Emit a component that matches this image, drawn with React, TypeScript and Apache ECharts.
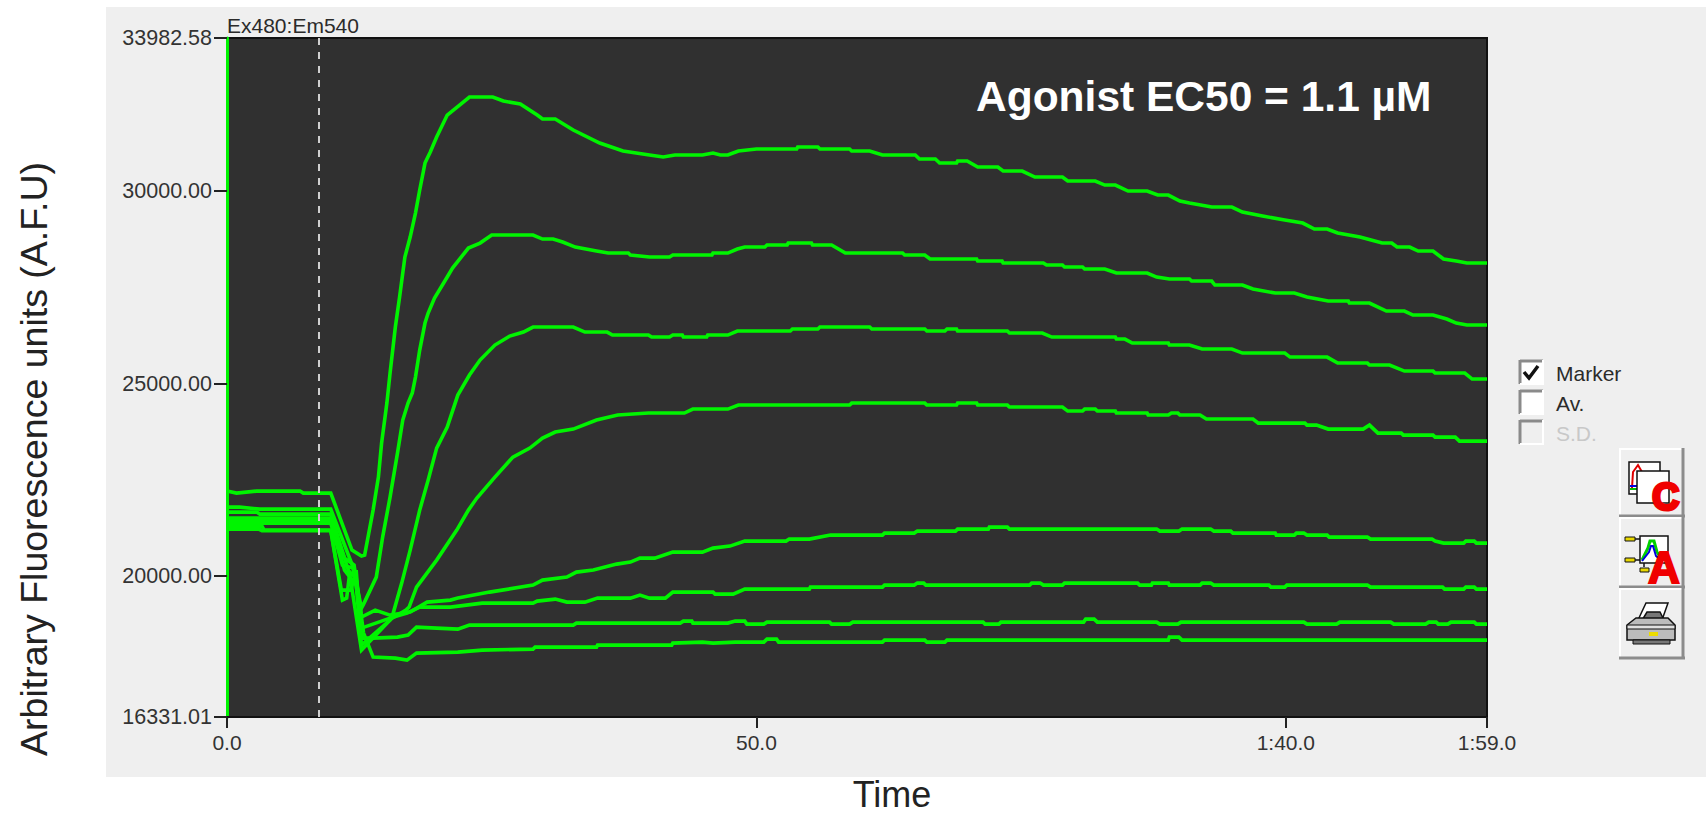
import React, { useEffect, useRef } from "react";
import * as echarts from "echarts";

const yTicks = [16331.01, 20000, 25000, 30000, 33982.58];
const xTicks = [0, 50, 100, 119];
const xTickLabels = ["0.0", "50.0", "1:40.0", "1:59.0"];
const markerTime = 8.7;

const lineA = [[0,22204],[0.9,22152],[2.8,22204],[6.9,22204],[7.2,22152],[9.8,22152],[11.8,20670],[12.7,20514],[13.0,20540],[13.8,21710],[14.3,22568],[14.6,23452],[15.1,24492],[15.4,25272],[15.9,26468],[16.3,27248],[16.8,28288],[17.3,28808],[17.8,29432],[18.2,30030],[18.7,30732],[19.2,31018],[19.8,31408],[20.8,31980],[21.5,32136],[22.9,32448],[25.1,32448],[26.1,32344],[27.7,32266],[29.3,31980],[29.8,31876],[31.0,31876],[32.7,31590],[35.2,31252],[37.4,31044],[39.9,30940],[41.2,30888],[42.3,30940],[44.9,30940],[45.9,30992],[46.6,30940],[47.3,30940],[48.3,31044],[50.0,31096],[53.8,31096],[53.9,31148],[55.8,31148],[56.0,31096],[58.8,31096],[59.0,31044],[60.7,31044],[61.9,30940],[65.0,30940],[65.4,30836],[66.9,30836],[67.3,30732],[68.9,30732],[69.0,30784],[69.9,30784],[70.9,30628],[72.8,30628],[73.3,30524],[75.1,30524],[76.3,30368],[78.9,30368],[79.4,30264],[82.0,30264],[82.9,30160],[83.9,30160],[85.1,30004],[86.9,30004],[87.9,29900],[88.9,29900],[90.0,29744],[90.9,29692],[93.0,29588],[94.9,29588],[95.9,29458],[97.8,29354],[99.9,29250],[101.6,29172],[102.7,29016],[103.9,29016],[104.9,28912],[107.0,28808],[109.1,28652],[110.0,28652],[110.5,28548],[111.7,28548],[112.5,28444],[113.9,28444],[114.9,28236],[116.1,28184],[117.1,28132],[119,28132]];

const lineB = [[0,21788],[1.2,21788],[3.1,21736],[9.8,21736],[11.9,20228],[12.7,19162],[12.9,19266],[14.1,19968],[14.7,21008],[15.4,22048],[16.1,23192],[16.6,24050],[17.1,24492],[17.5,24752],[17.8,25168],[18.2,25870],[18.7,26572],[19.0,26832],[19.6,27222],[20.8,27768],[21.3,28002],[22.8,28522],[23.9,28652],[25.0,28860],[28.9,28860],[29.8,28756],[30.8,28756],[31.7,28678],[32.9,28548],[34.9,28444],[36.0,28392],[37.9,28392],[38.1,28340],[39.9,28288],[41.8,28288],[42.1,28340],[45.8,28340],[45.9,28392],[47.3,28392],[48.2,28496],[48.9,28548],[50.8,28548],[51.0,28600],[52.9,28600],[53.0,28652],[55.2,28652],[55.3,28600],[57.1,28600],[58.4,28392],[63.8,28392],[64.0,28340],[65.9,28340],[66.4,28236],[70.8,28236],[70.9,28184],[73.2,28184],[73.3,28132],[77.1,28132],[77.4,28080],[78.9,28080],[79.1,28028],[80.8,28028],[81.0,27976],[82.9,27976],[84.0,27872],[86.9,27872],[87.8,27768],[89.0,27716],[90.9,27716],[91.1,27664],[93.0,27664],[93.3,27560],[95.9,27560],[96.9,27456],[99.0,27352],[100.8,27352],[102.0,27248],[104.0,27144],[105.9,27144],[106.0,27092],[107.9,27092],[109.5,26884],[111.2,26884],[112.0,26780],[113.9,26780],[115.2,26676],[116.1,26572],[117.1,26520],[119,26520]];

const lineC = [[0,21658],[2.8,21658],[3.1,21606],[9.8,21606],[11.6,20020],[12.7,18070],[15.4,18850],[15.7,19032],[16.5,19812],[17.3,20670],[18.2,21710],[19.0,22490],[19.8,23322],[20.8,23868],[21.8,24700],[22.9,25220],[23.9,25610],[25.3,26000],[26.7,26234],[28.0,26338],[28.9,26468],[32.7,26468],[33.8,26338],[35.9,26338],[36.4,26260],[39.8,26260],[40.1,26208],[41.8,26208],[42.1,26260],[43.0,26260],[43.1,26208],[45.3,26208],[45.4,26260],[47.3,26260],[48.2,26364],[53.2,26364],[53.4,26416],[55.8,26416],[56.0,26468],[60.7,26468],[60.9,26416],[65.9,26416],[66.1,26364],[67.8,26364],[68.0,26416],[68.9,26416],[69.0,26364],[73.7,26364],[73.9,26312],[77.0,26312],[77.9,26208],[83.9,26208],[84.0,26156],[84.8,26156],[85.5,26052],[88.9,26052],[89.0,26000],[90.9,26000],[92.1,25896],[94.9,25896],[95.9,25792],[99.9,25792],[100.4,25688],[103.9,25688],[104.9,25532],[107.7,25532],[107.9,25480],[109.8,25480],[111.2,25324],[113.9,25324],[114.1,25272],[116.9,25272],[117.6,25116],[119,25116]];

const lineD = [[0,21502],[9.8,21502],[11.1,20150],[12.2,19760],[12.7,18200],[15.6,18902],[16.9,19110],[17.2,19188],[17.9,19708],[19.8,20410],[21.7,21190],[22.8,21710],[23.6,22022],[25.3,22568],[27.0,23088],[28.6,23322],[29.8,23582],[31.0,23738],[32.7,23816],[34.9,24050],[36.9,24180],[39.8,24232],[43.2,24232],[44.0,24336],[47.3,24336],[48.3,24440],[58.8,24440],[59.0,24492],[65.9,24492],[66.1,24440],[68.9,24440],[69.0,24492],[70.8,24492],[70.9,24440],[73.7,24440],[73.9,24388],[78.9,24388],[79.4,24284],[80.8,24284],[81.0,24336],[82.0,24336],[82.2,24284],[83.9,24284],[84.0,24232],[86.9,24232],[87.0,24180],[88.9,24180],[89.2,24232],[89.8,24232],[90.0,24180],[91.9,24180],[92.5,24076],[96.9,24076],[97.4,23972],[101.8,23972],[102.0,23920],[102.9,23920],[104.0,23816],[107.3,23816],[107.9,23920],[108.7,23712],[110.9,23712],[111.1,23660],[113.9,23660],[114.1,23608],[116.0,23608],[116.4,23504],[119,23504]];

const lineE = [[0,21450],[9.8,21450],[11.1,20462],[12.0,20280],[12.7,18928],[14.0,19110],[15.4,18980],[17.3,19058],[18.9,19318],[21.1,19370],[21.8,19422],[24.8,19578],[28.9,19760],[29.8,19890],[32.1,19968],[33.0,20098],[34.6,20150],[36.8,20306],[38.1,20358],[39.0,20462],[40.4,20462],[42.1,20618],[44.9,20618],[45.9,20722],[47.5,20774],[48.9,20904],[52.8,20904],[53.1,20956],[55.0,20956],[57.0,21060],[61.9,21060],[62.1,21112],[64.9,21112],[65.2,21164],[68.8,21164],[69.0,21216],[71.9,21216],[72.0,21268],[73.7,21268],[73.9,21216],[87.8,21216],[88.1,21164],[89.9,21164],[90.2,21216],[92.9,21216],[93.2,21164],[94.8,21164],[95.0,21112],[99.0,21112],[99.1,21060],[100.8,21060],[101.0,21112],[101.7,21112],[102.0,21060],[103.9,21060],[104.1,21008],[107.7,21008],[108.0,20956],[113.8,20956],[114.1,20904],[114.9,20852],[116.8,20852],[117.0,20904],[117.8,20904],[118.0,20852],[119,20852]];

const lineF = [[0,21372],[9.8,21372],[10.9,20280],[11.9,20202],[12.6,19110],[12.7,18642],[15.4,18902],[17.0,19032],[18.2,19188],[21.1,19188],[24.1,19292],[28.9,19292],[29.3,19344],[31.0,19396],[32.1,19318],[33.8,19318],[35.0,19422],[38.1,19422],[39.0,19500],[39.9,19422],[41.4,19422],[42.1,19578],[45.9,19578],[46.1,19526],[47.8,19526],[48.9,19656],[55.0,19656],[55.1,19708],[61.9,19708],[62.1,19760],[64.9,19760],[65.2,19812],[65.8,19812],[66.0,19760],[75.8,19760],[76.0,19812],[76.8,19812],[77.1,19760],[78.9,19760],[79.1,19812],[86.0,19812],[86.2,19760],[87.3,19760],[87.4,19812],[88.9,19812],[89.0,19760],[91.9,19760],[92.1,19812],[92.9,19812],[93.2,19760],[98.4,19760],[98.6,19708],[99.9,19708],[100.1,19760],[107.7,19760],[108.0,19708],[114.8,19708],[115.0,19656],[116.8,19656],[117.0,19708],[117.8,19708],[118.0,19656],[119,19656]];

const lineG = [[0,21294],[3.3,21294],[3.5,21190],[9.8,21190],[10.8,19630],[11.7,19630],[12.2,20150],[12.7,18382],[13.8,18382],[16.1,18408],[17.1,18460],[17.9,18668],[19.8,18642],[21.8,18616],[22.9,18720],[32.7,18720],[33.0,18772],[42.8,18772],[43.1,18824],[43.9,18824],[44.0,18772],[47.3,18772],[48.0,18824],[48.9,18824],[49.1,18746],[50.7,18746],[51.0,18798],[56.9,18798],[57.1,18746],[58.8,18746],[59.1,18798],[71.4,18798],[71.6,18746],[72.9,18746],[73.1,18798],[80.9,18798],[81.1,18876],[81.9,18876],[82.2,18798],[87.8,18798],[88.1,18746],[89.8,18746],[90.1,18798],[101.7,18798],[102.0,18746],[104.8,18746],[105.1,18798],[109.9,18798],[110.2,18746],[113.2,18746],[113.5,18798],[114.2,18798],[114.4,18746],[115.3,18746],[115.6,18798],[117.8,18798],[118.0,18746],[119,18746]];

const lineH = [[0,21216],[3.0,21216],[3.3,21177],[9.8,21177],[10.9,19370],[11.3,19422],[11.6,20098],[12.2,19942],[12.9,18512],[13.8,17888],[15.9,17862],[17.0,17810],[17.9,17992],[21.8,18018],[24.1,18070],[28.9,18096],[29.1,18148],[34.9,18148],[35.0,18200],[42.0,18200],[42.1,18252],[44.9,18278],[45.9,18252],[48.0,18278],[50.7,18278],[51.0,18356],[51.9,18356],[52.1,18278],[61.9,18278],[62.1,18330],[65.9,18330],[66.1,18278],[67.8,18278],[68.0,18330],[88.9,18330],[89.0,18408],[89.9,18408],[90.2,18330],[119,18330]];

const traces = [lineA, lineB, lineC, lineD, lineE, lineF, lineG, lineH];

const FONT = "Liberation Sans";
const GREEN = "#00f400";

function label(text: string, x: number, y: number, fontSize: number, fill: string, extra: any = {}) {
  return { type: "text", x, y, silent: true, ...extra.el, style: { text, x: 0, y: 0, fontSize, fontFamily: FONT, fill, textVerticalAlign: "middle", verticalAlign: "middle", ...extra.style } };
}
function rect(x: number, y: number, width: number, height: number, fill: string, stroke?: string, lineWidth = 1) {
  return { type: "rect", shape: { x, y, width, height }, silent: true, style: { fill, stroke: stroke || "none", lineWidth } };
}
function line(x1: number, y1: number, x2: number, y2: number, stroke: string, lineWidth = 2) {
  return { type: "line", shape: { x1, y1, x2, y2 }, silent: true, style: { stroke, lineWidth } };
}
function poly(points: number[][], stroke: string, lineWidth = 2) {
  return { type: "polyline", shape: { points }, silent: true, style: { stroke, lineWidth, fill: "none" } };
}
function polygon(points: number[][], fill: string, stroke = "#111", lineWidth = 1.5) {
  return { type: "polygon", shape: { points }, silent: true, style: { fill, stroke, lineWidth } };
}
function checkbox(y: number, fill: string) {
  return [
    rect(1519, y, 24, 24, fill),
    line(1520, y + 1, 1543, y + 1, "#8a8a8a", 3),
    line(1520, y, 1520, y + 24, "#8a8a8a", 3),
    line(1520, y + 24, 1544, y + 24, "#ffffff", 2),
    line(1543, y, 1543, y + 24, "#ffffff", 2),
  ];
}
function button(y: number, h: number) {
  return [
    rect(1619, y, 65, h, "#efefef"),
    line(1619, y + 1, 1684, y + 1, "#ffffff", 2),
    line(1620, y, 1620, y + h, "#ffffff", 2),
    line(1619, y + h - 1, 1685, y + h - 1, "#8c8c8c", 3),
    line(1683, y, 1683, y + h, "#8c8c8c", 3),
  ];
}

const graphics: any[] = [
  { ...rect(106, 7, 1600, 770, "#efefef"), z: -1 },
  label("Ex480:Em540", 227, 25, 21, "#2b2b2b"),
  label("Agonist EC50 = 1.1 µM", 976, 96, 42.5, "#ffffff", { style: { fontWeight: "bold" } }),
  label("Arbitrary Fluorescence units (A.F.U)", 34, 459, 37.5, "#222222", { el: { rotation: Math.PI / 2 }, style: { align: "center", textAlign: "center" } }),
  label("Time", 892, 794, 36, "#222222", { style: { align: "center", textAlign: "center" } }),
  ...checkbox(360, "#ffffff"),
  poly([[1524, 372], [1529, 378], [1538, 366]], "#111111", 3.5),
  ...checkbox(390, "#ffffff"),
  ...checkbox(420, "#efefef"),
  label("Marker", 1556, 373, 21, "#2b2b2b"),
  label("Av.", 1556, 403, 21, "#2b2b2b"),
  label("S.D.", 1556, 433, 21, "#c8c8c8"),
  ...button(448, 69),
  rect(1629, 462, 31, 32, "#ffffff", "#111111", 1.5),
  poly([[1632, 488], [1633, 472], [1638, 465], [1642, 472]], "#e00000", 2),
  line(1630, 486, 1637, 486, "#0000e0", 2),
  line(1630, 489, 1637, 489, "#00c000", 2),
  rect(1637, 471, 32, 32, "#ffffff", "#111111", 1.5),
  label("C", 1652, 497, 38, "#f00000", { style: { fontWeight: "bold", stroke: "#f00000", lineWidth: 3 } }),
  ...button(517, 71),
  rect(1640, 536, 28, 27, "#ffffff", "#111111", 1.5),
  poly([[1642, 560], [1648, 548], [1650, 541], [1654, 541], [1657, 552], [1662, 560]], "#00d000", 3),
  poly([[1642, 561], [1649, 552], [1651, 546], [1653, 546], [1656, 556], [1662, 561]], "#0000e0", 2),
  line(1635, 539, 1640, 539, "#111111", 1.5),
  line(1635, 560, 1640, 560, "#111111", 1.5),
  line(1644, 563, 1644, 567, "#111111", 1.5),
  rect(1625, 537, 10, 4, "#e8d800", "#111111", 1),
  rect(1625, 558, 10, 4, "#e8d800", "#111111", 1),
  rect(1640, 568, 9, 4, "#e8d800", "#111111", 1),
  label("A", 1648, 567, 44, "#f00000", { style: { fontWeight: "bold", stroke: "#f00000", lineWidth: 2 } }),
  ...button(588, 71),
  polygon([[1638, 620], [1646, 603], [1668, 603], [1662, 620]], "#ffffff"),
  polygon([[1641, 622], [1647, 612], [1660, 612], [1665, 622]], "#777777"),
  polygon([[1627, 625], [1636, 618], [1668, 618], [1675, 625], [1675, 640], [1627, 640]], "#bcbcbc"),
  rect(1627, 625, 48, 4, "#e0e0e0", "#111111", 1),
  rect(1649, 632, 9, 4, "#ecdc00"),
  rect(1633, 640, 37, 4, "#777777", "#111111", 1),
];

export default function App() {
  const ref = useRef<HTMLDivElement>(null);
  useEffect(() => {
    document.body.style.margin = "0";
    const chart = echarts.init(ref.current!, null, { renderer: "svg" });
    chart.setOption({
      animation: false,
      backgroundColor: "#ffffff",
      textStyle: { fontFamily: FONT },
      grid: { left: 227, right: 219, top: 38, bottom: 97, show: true, backgroundColor: "#303030", borderColor: "#111111", borderWidth: 2 },
      xAxis: {
        type: "value",
        min: 0,
        max: 119,
        splitLine: { show: false },
        axisLine: { show: true, onZero: false, lineStyle: { color: "#111111", width: 2 } },
        axisTick: { show: true, length: 11, customValues: xTicks, lineStyle: { color: "#222222", width: 2 } },
        axisLabel: {
          show: true,
          customValues: xTicks,
          margin: 15,
          fontSize: 21,
          fontFamily: FONT,
          color: "#333333",
          formatter: (v: number) => xTickLabels[xTicks.indexOf(v)] ?? "",
        },
      },
      yAxis: {
        type: "value",
        min: yTicks[0],
        max: yTicks[yTicks.length - 1],
        splitLine: { show: false },
        axisLine: { show: true, onZero: false, lineStyle: { color: "#00f400", width: 3 } },
        axisTick: { show: true, length: 13, customValues: yTicks, lineStyle: { color: "#222222", width: 2 } },
        axisLabel: {
          show: true,
          customValues: yTicks,
          margin: 15,
          fontSize: 21.5,
          fontFamily: FONT,
          color: "#333333",
          formatter: (v: number) => v.toFixed(2),
        },
      },
      series: traces.map((data, i) => ({
        type: "line",
        data,
        showSymbol: false,
        symbol: "none",
        smooth: false,
        clip: true,
        lineStyle: { color: GREEN, width: 3.6, join: "miter" },
        ...(i === 0
          ? {
              markLine: {
                silent: true,
                symbol: "none",
                label: { show: false },
                lineStyle: { color: "#d0d0d0", width: 2, type: [7, 7] },
                data: [{ xAxis: markerTime }],
              },
            }
          : {}),
      })),
      graphic: graphics,
    });
    return () => chart.dispose();
  }, []);
  return <div ref={ref} style={{ position: "absolute", left: 0, top: 0, width: 1706, height: 814 }} />;
}
